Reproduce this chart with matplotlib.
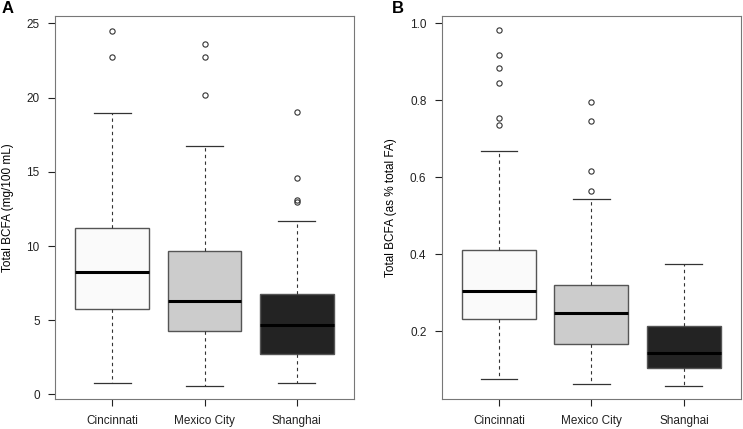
import matplotlib.pyplot as plt

plt.rcParams['font.family'] = ['Liberation Sans', 'DejaVu Sans']

cities = ["Cincinnati", "Mexico City", "Shanghai"]
fills = ["#fafafa", "#cccccc", "#232323"]

# panel A: total BCFA (mg/100 mL)
a_low = [0.78, 0.58, 0.78]
a_q1 = [5.78, 4.30, 2.71]
a_med = [8.22, 6.27, 4.70]
a_q3 = [11.24, 9.65, 6.76]
a_high = [18.93, 16.73, 11.67]
a_out = [[24.5, 22.73], [23.63, 22.73, 20.2], [19.04, 14.6, 13.12, 12.94]]

# panel B: total BCFA (as % total FA)
b_low = [0.0745, 0.0616, 0.058]
b_q1 = [0.230, 0.166, 0.104]
b_med = [0.304, 0.2475, 0.1436]
b_q3 = [0.411, 0.319, 0.214]
b_high = [0.667, 0.543, 0.373]
b_out = [[0.983, 0.918, 0.884, 0.844, 0.752, 0.735],
         [0.794, 0.746, 0.615, 0.564], []]


def draw(ax, low, q1, med, q3, high, out):
    stats = []
    for i in range(3):
        stats.append(dict(whislo=low[i], q1=q1[i], med=med[i], q3=q3[i],
                          whishi=high[i], fliers=out[i], label=cities[i]))
    bp = ax.bxp(stats, widths=0.8, patch_artist=True, capwidths=0.4,
                boxprops=dict(edgecolor="#555555", linewidth=1.0),
                medianprops=dict(color="black", linewidth=2.2),
                whiskerprops=dict(color="#333333", linestyle=(0, (3, 3)), linewidth=0.8),
                capprops=dict(color="#333333", linewidth=0.9),
                flierprops=dict(marker="o", markersize=3.8, markerfacecolor="none",
                                markeredgecolor="#333333", markeredgewidth=0.8))
    for patch, c in zip(bp["boxes"], fills):
        patch.set_facecolor(c)
    ax.set_xlim(0.38, 3.62)
    for s in ax.spines.values():
        s.set_color("#777777")
    ax.tick_params(colors="#222222", labelsize=8.5, length=5, width=0.8, pad=6)
    ax.tick_params(axis="x", pad=6.5)


fig = plt.figure(figsize=(7.43, 4.29), dpi=100)
axA = fig.add_axes([55 / 743, 1 - 399.3 / 429, 299 / 743, 383.6 / 429])
axB = fig.add_axes([441.7 / 743, 1 - 399.3 / 429, 299.5 / 743, 383.6 / 429])

draw(axA, a_low, a_q1, a_med, a_q3, a_high, a_out)
axA.set_ylim(-0.33, 25.52)
axA.set_yticks([0, 5, 10, 15, 20, 25])
axA.set_ylabel("Total BCFA (mg/100 mL)", fontsize=8.5, labelpad=9)

draw(axB, b_low, b_q1, b_med, b_q3, b_high, b_out)
axB.set_ylim(0.0226, 1.019)
axB.set_yticks([0.2, 0.4, 0.6, 0.8, 1.0])
axB.set_yticklabels(["0.2", "0.4", "0.6", "0.8", "1.0"])
axB.set_ylabel("Total BCFA (as % total FA)", fontsize=8.5, labelpad=9)

fig.text(2 / 743, 1 - 13 / 429, "A", fontsize=12, fontweight="bold")
fig.text(392 / 743, 1 - 13 / 429, "B", fontsize=12, fontweight="bold")

fig.savefig("out.png", dpi=100)
